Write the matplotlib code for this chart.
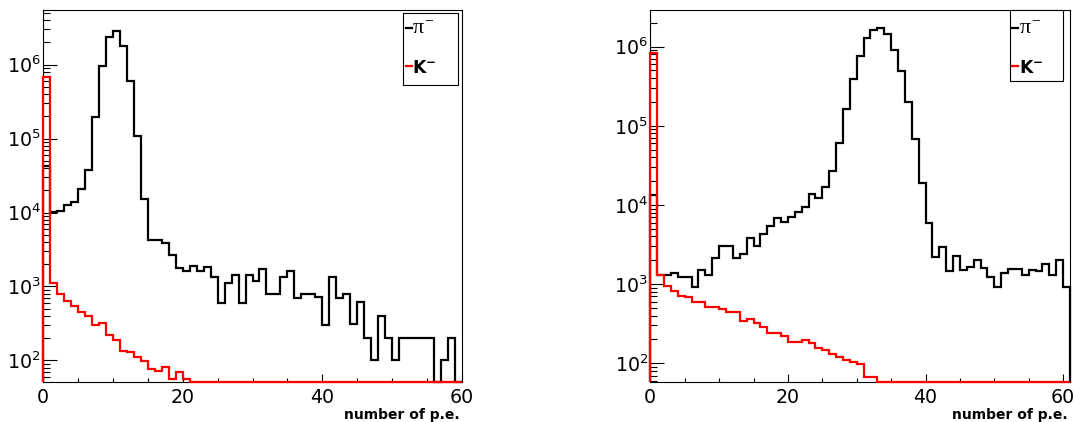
import numpy as np
import matplotlib
matplotlib.use('Agg')
import matplotlib.pyplot as plt
from matplotlib.patches import Rectangle
from matplotlib.lines import Line2D
from matplotlib.ticker import LogLocator, MultipleLocator, NullFormatter, LogFormatterSciNotation

# ---------------- data (counts per 1 p.e. bin) ----------------
left_pi = [4.3e4, 1.03e4, 1.05e4, 1.28e4, 1.41e4, 2.1e4, 3.8e4, 1.96e5, 9.5e5, 2.34e6,
           2.9e6, 1.77e6, 6.1e5, 1.1e5, 1.54e4, 4.3e3, 4.3e3, 3.9e3, 2.7e3, 1.8e3,
           1.6e3, 1.9e3, 1.6e3, 1.83e3, 1.34e3, 600, 1.11e3, 1.41e3, 600, 1.41e3,
           1.2e3, 1.74e3, 800, 800, 1.34e3, 1.6e3, 700, 800, 800, 720,
           300, 1.33e3, 700, 800, 310, 610, 200, 100, 400, 200,
           100, 200, 200, 200, 200, 200, 0, 100, 200, 0]
left_k = [6.8e5, 1.11e3, 800, 627, 537, 451, 393, 303, 319, 222,
          190, 135, 128, 111, 99, 76, 71, 81, 56, 69,
          56] + [0] * 39

right_pi = [1.34e4, 1306, 1306, 1397, 1222, 1222, 913, 1510, 1306, 2125,
            3036, 3036, 2125, 2405, 3796, 3063, 4305, 5433, 6918, 6155,
            7112, 8086, 9355, 1.365e4, 1.236e4, 1.674e4, 2.71e4, 6.02e4, 1.62e5, 3.87e5,
            7.62e5, 1.28e6, 1.63e6, 1.71e6, 1.45e6, 9.08e5, 4.93e5, 2.02e5, 6.76e4, 1.88e4,
            5985, 2222, 2970, 1479, 2285, 1510, 1660, 2018, 1585, 1222,
            913, 1397, 1538, 1538, 1306, 1510, 1462, 1782, 1306, 2018,
            929]
right_k = [8.4e5, 1306, 948, 827, 714, 682, 590, 590, 510, 510,
           481, 441, 441, 345, 363, 320, 290, 244, 239, 222,
           185, 185, 197, 180, 155, 147, 131, 119, 110, 104,
           98, 68, 68] + [0] * 28

left_edges = np.arange(0, 61)
right_edges = np.arange(0, 62)

series_labels = [r'$\pi^{-}$', r'$\mathregular{K^{-}}$']
xlabel_text = 'number of p.e.'

# ---------------- figure ----------------
plt.rcParams['font.family'] = ['DejaVu Sans']
plt.rcParams['mathtext.fontset'] = 'custom'
plt.rcParams['mathtext.rm'] = 'Liberation Serif'
plt.rcParams['mathtext.it'] = 'Liberation Serif'
plt.rcParams['mathtext.bf'] = 'DejaVu Sans:bold'

W, H = 1073, 422
fig = plt.figure(figsize=(W / 100, H / 100), dpi=100)
fig.patch.set_facecolor('white')


def fx(x):
    return x / W


def fy(y):
    return 1 - y / H


def make_axes(x0, y0, x1, y1):
    return fig.add_axes([fx(x0), fy(y1), (x1 - x0) / W, (y1 - y0) / H])


panels = [
    dict(box=(43, 10, 462, 382), xlim=(0, 60), ylim=(51, 5.5e6),
         edges=left_edges, pi=left_pi, k=left_k,
         leg=(403.3, 13.3, 457.7, 84.7)),
    dict(box=(650.3, 10, 1070, 382), xlim=(0, 61), ylim=(58, 2.9e6),
         edges=right_edges, pi=right_pi, k=right_k,
         leg=(1010, 10, 1063, 81)),
]

for p in panels:
    ax = make_axes(*p['box'])
    ax.set_yscale('log')
    ax.set_xlim(*p['xlim'])
    ax.set_ylim(*p['ylim'])
    ylo = p['ylim'][0]
    ax.stairs(np.clip(np.array(p['pi'], float), ylo, None), p['edges'], baseline=ylo,
              color='black', lw=1.6, clip_on=False, zorder=3)
    ax.stairs(np.clip(np.array(p['k'], float), ylo, None), p['edges'], baseline=ylo,
              color='#ff0000', lw=1.6, clip_on=False, zorder=4)

    for s in ax.spines.values():
        s.set_linewidth(0.8)
    ax.xaxis.set_major_locator(MultipleLocator(20))
    ax.xaxis.set_minor_locator(MultipleLocator(5))
    ax.yaxis.set_major_locator(LogLocator(base=10, numticks=20))
    ax.yaxis.set_minor_locator(LogLocator(base=10, subs=np.arange(2, 10), numticks=20))
    ax.yaxis.set_major_formatter(LogFormatterSciNotation())
    ax.yaxis.set_minor_formatter(NullFormatter())
    ax.tick_params(which='both', direction='in', top=False, right=False, width=0.8,
                   labelsize=13.7, colors='black')
    ax.tick_params(axis='y', which='major', length=10, pad=1.5)
    ax.tick_params(axis='y', which='minor', length=5.2)
    ax.tick_params(axis='x', which='major', length=5.5, pad=4)
    ax.tick_params(axis='x', which='minor', length=3)

    ax.set_xlabel(xlabel_text, fontsize=10, fontweight='bold', ha='right', va='top')
    x0, y0, x1, y1 = p['box']
    ax.xaxis.set_label_coords(1.0 - 2 / (x1 - x0), -(408 - y1) / (y1 - y0))

    # legend box
    lx0, ly0, lx1, ly1 = p['leg']
    fig.add_artist(Rectangle((fx(lx0), fy(ly1)), (lx1 - lx0) / W, (ly1 - ly0) / H,
                             transform=fig.transFigure, facecolor='white',
                             edgecolor='black', lw=0.8, zorder=5))
    entries = [('black', series_labels[0], 'Liberation Serif', 'normal', 16.0, 28.3, 35.0),
               ('#ff0000', series_labels[1], 'DejaVu Sans', 'bold', 12.3, 66.3, 73.3)]
    for color, lab, fam, wt, size, ydash, ybase in entries:
        fig.add_artist(Line2D([fx(lx0 + 2.3), fx(lx0 + 8.3)], [fy(ydash), fy(ydash)],
                              transform=fig.transFigure, color=color, lw=1.6, zorder=6))
        fig.text(fx(lx0 + 9.2), fy(ybase), lab, family=fam, fontweight=wt,
                 fontsize=size, va='baseline', ha='left', zorder=6)

fig.savefig('out.png', dpi=100, facecolor='white')
